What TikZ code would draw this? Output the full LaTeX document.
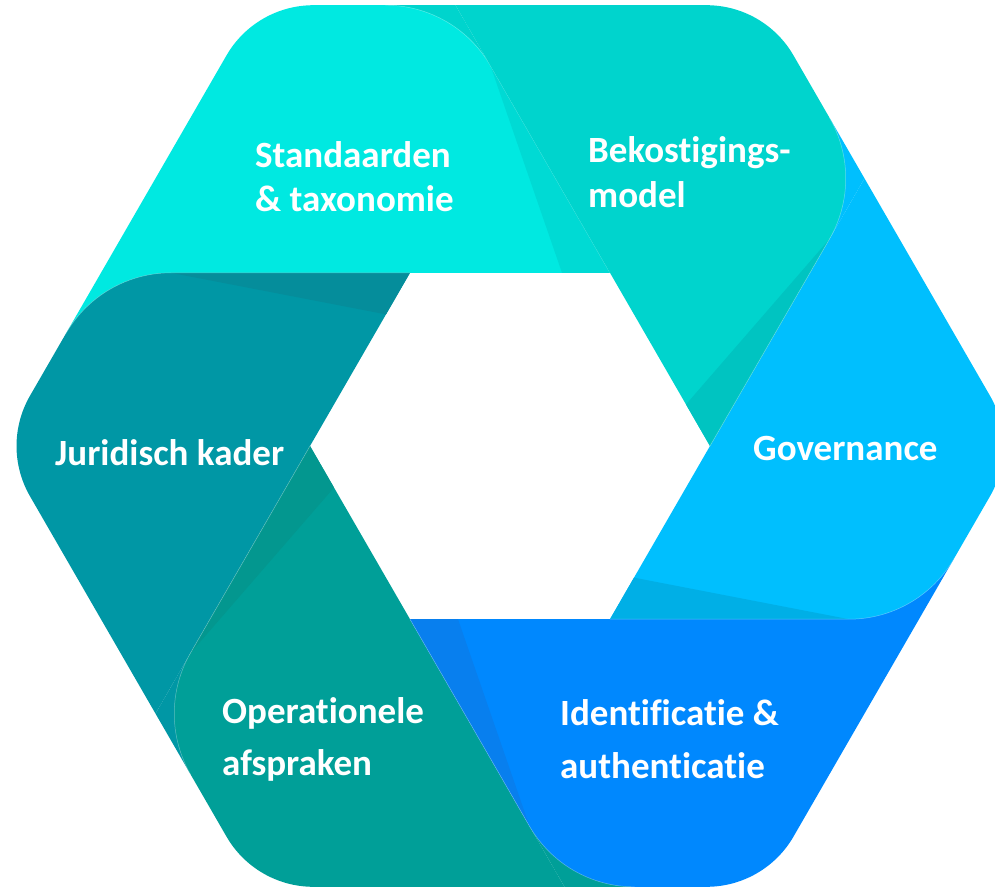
\documentclass[tikz,border=0pt]{standalone}
\usepackage{fontspec}
\setmainfont{Carlito}[Ligatures=NoCommon]
\definecolor{cStd}{HTML}{00E9E1}\definecolor{sStd}{HTML}{00DAD4}
\definecolor{cJur}{HTML}{0097A5}\definecolor{sJur}{HTML}{058D9B}
\definecolor{cOpe}{HTML}{009F98}\definecolor{sOpe}{HTML}{03978F}
\definecolor{cIde}{HTML}{0088FE}\definecolor{sIde}{HTML}{087FEE}
\definecolor{cGov}{HTML}{00BFFE}\definecolor{sGov}{HTML}{00AFE6}
\definecolor{cBek}{HTML}{00D4CD}\definecolor{sBek}{HTML}{00C4C1}
\tikzset{
  piece/.style={insert path={(100,173.2) -- (-19.5,380.18) .. controls (-41.15,417.68) and (-81.2,440.8) .. (-124.5,440.8) -- (-196.5,440.8) .. controls (-232.4,440.8) and (-265.55,421.66) .. (-283.5,390.57) -- (-409,173.2) -- cycle}},
  backing/.style={insert path={(-54.5,440.8) -- (-19.5,380.18) -- (-124.5,440.8) -- cycle}},
  shade/.style={insert path={(-19.5,380.18) -- (52,173.2) -- (100,173.2) -- cycle}},
  seam/.style={insert path={(100,173.2) -- (-19.5,380.18) .. controls (-41.15,417.68) and (-81.2,440.8) .. (-124.5,440.8)}},
  lbl/.style={text=white, font=\bfseries\fontsize{37}{44}\selectfont, anchor=base west, inner sep=0pt}
}
\begin{document}
\begin{tikzpicture}[x=1pt,y=1pt]
\useasboundingbox (-510,-441) rectangle (485,446);
\fill[white] (-510,-441) rectangle (485,446);
% colour of the piece that shows behind each rounded junction corner
\foreach \ang/\back in {0/cBek,60/cStd,120/cJur,180/cOpe,240/cIde,300/cGov}{
  \begin{scope}[rotate=\ang]
    \fill[\back, backing];
  \end{scope}
}
% the six pieces with their darker fold strips
\foreach \ang/\col/\sh in {0/cStd/sStd,60/cJur/sJur,120/cOpe/sOpe,180/cIde/sIde,240/cGov/sGov,300/cBek/sBek}{
  \begin{scope}[rotate=\ang]
    \fill[\col, piece];
    \fill[\sh, shade];
    \draw[white, opacity=0.35, line width=0.5pt, seam];
  \end{scope}
}
\node[lbl] (std1) at (-255,279) {Standaarden};
\node[lbl] (std2) at (-255,235) {\& taxonomie};
\node[lbl] (bek1) at (78,284) {Bekostigings-};
\node[lbl] (bek2) at (78,239) {model};
\node[lbl] (jur) at (-455,-19) {Juridisch kader};
\node[lbl] (gov) at (243,-14) {Governance};
\node[lbl] (ope1) at (-288,-277) {Operationele};
\node[lbl] (ope2) at (-288,-329) {afspraken};
\node[lbl] (ide1) at (50,-279) {Identificatie \&};
\node[lbl] (ide2) at (50,-332) {authenticatie};
\end{tikzpicture}
\end{document}
